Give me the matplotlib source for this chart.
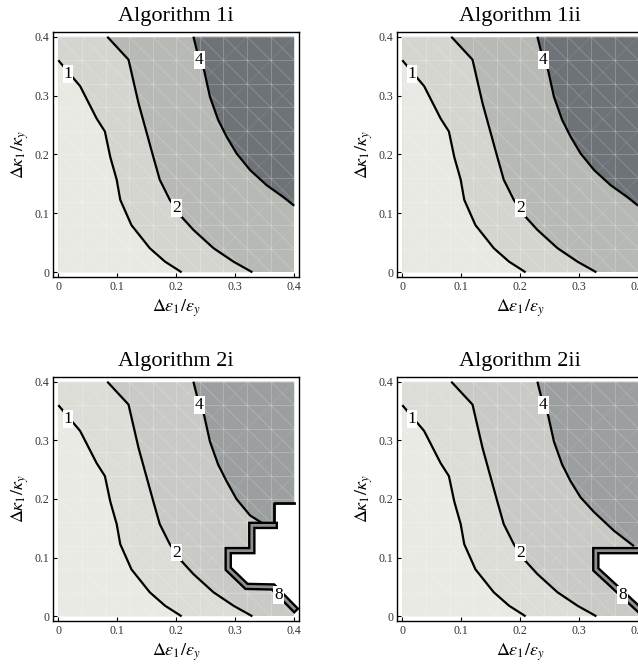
import numpy as np
import matplotlib
matplotlib.use('Agg')
import matplotlib.pyplot as plt

plt.rcParams['font.family'] = ['Liberation Serif', 'DejaVu Serif']
plt.rcParams['mathtext.fontset'] = 'stix'

# contour lines (x = d_eps/eps_y, y = d_kappa/kappa_y)
c1_x = [0.0, 0.037, 0.065, 0.079, 0.088, 0.099, 0.105, 0.124, 0.155, 0.181, 0.209]
c1_y = [0.36, 0.316, 0.261, 0.239, 0.196, 0.157, 0.123, 0.080, 0.041, 0.018, 0.0]

c2_x = [0.083, 0.119, 0.136, 0.150, 0.161, 0.172, 0.189, 0.209, 0.229, 0.263, 0.297, 0.329]
c2_y = [0.400, 0.361, 0.287, 0.236, 0.196, 0.157, 0.123, 0.094, 0.072, 0.041, 0.018, 0.0]

c4_top_x = [0.229, 0.236, 0.247, 0.257, 0.271, 0.2854, 0.302, 0.325, 0.353, 0.381, 0.400]
c4_top_y = [0.400, 0.372, 0.3435, 0.298, 0.2586, 0.230, 0.202, 0.1737, 0.148, 0.128, 0.113]

c4_2i_x = [0.229, 0.236, 0.247, 0.257, 0.271, 0.2854, 0.302, 0.325, 0.347]
c4_2i_y = [0.400, 0.372, 0.3435, 0.298, 0.2586, 0.230, 0.200, 0.172, 0.158]

c4_2ii_x = [0.229, 0.236, 0.247, 0.257, 0.271, 0.2854, 0.302, 0.3247, 0.3587, 0.3926]
c4_2ii_y = [0.400, 0.372, 0.3435, 0.298, 0.2586, 0.230, 0.203, 0.178, 0.146, 0.1195]

# boundary of the undefined (white) region, level 8
s8_2i_x = [0.400, 0.366, 0.366, 0.328, 0.328, 0.288, 0.288, 0.319, 0.364, 0.400]
s8_2i_y = [0.194, 0.194, 0.155, 0.155, 0.112, 0.112, 0.081, 0.051, 0.050, 0.013]

s8_2ii_x = [0.400, 0.328, 0.328, 0.400]
s8_2ii_y = [0.112, 0.112, 0.080, 0.013]

titles = ['Algorithm 1i', 'Algorithm 1ii', 'Algorithm 2i', 'Algorithm 2ii']
ticks = [0, 0.1, 0.2, 0.3, 0.4]
tick_labels = ['0', '0.1', '0.2', '0.3', '0.4']

top_cols = ['#e8e9e2', '#d4d5cf', '#b7b9b5', '#6e7378']
bot_cols = ['#e9eae3', '#dcddd7', '#c9cac5', '#9c9fa0']

W, H = 638, 668
fig = plt.figure(figsize=(W / 100, H / 100), dpi=100)


def rect(left, top, right, bottom):
    return [left / W, (H - bottom) / H, (right - left) / W, (bottom - top) / H]


def mesh(ax):
    g = np.arange(0, 0.4001, 0.04)
    for v in g:
        ax.plot([v, v], [0, 0.4], color='white', lw=0.6, alpha=0.25, zorder=2)
        ax.plot([0, 0.4], [v, v], color='white', lw=0.6, alpha=0.25, zorder=2)
    for c in np.arange(0.04, 0.8, 0.04):
        x0, x1 = max(0, c - 0.4), min(0.4, c)
        ax.plot([x0, x1], [c - x0, c - x1], color='white', lw=0.6, alpha=0.22, zorder=2)
    for c in np.arange(-0.32, 0.4, 0.08):
        x0, x1 = max(0, -c), min(0.4, 0.4 - c)
        ax.plot([x0, x1], [x0 + c, x1 + c], color='white', lw=0.5, alpha=0.12, zorder=2)


def label(ax, x, y, s):
    ax.text(x, y, s, ha='center', va='center', fontsize=12.5, zorder=8,
            bbox=dict(fc='white', ec='none', pad=0.6))


def panel(pos, title, cols, c4x, c4y, s8x=None, s8y=None, single=0):
    ax = fig.add_axes(pos)
    ax.set_xlim(-0.0085, 0.408)
    ax.set_ylim(-0.008, 0.4085)
    ax.fill([0, 0.4, 0.4, 0], [0, 0, 0.4, 0.4], color=cols[2], lw=0, zorder=1)
    ax.fill([0, 0] + c2_x, [0, 0.4] + c2_y, color=cols[1], lw=0, zorder=1)
    ax.fill([0] + c1_x, [0] + c1_y, color=cols[0], lw=0, zorder=1)
    if s8x is None:
        dx, dy = c4x + [0.4], c4y + [0.4]
    elif single:
        dx = c4x + s8x[single::-1] + [0.4]
        dy = c4y + s8y[single::-1] + [0.4]
    else:
        dx = c4x + [0.4, 0.4]
        dy = c4y + [c4y[-1], 0.4]
    ax.fill(dx, dy, color=cols[3], lw=0, zorder=1)
    mesh(ax)
    for xs, ys in [(c1_x, c1_y), (c2_x, c2_y), (c4x, c4y)]:
        ax.plot(xs, ys, color='black', lw=1.6, zorder=5, solid_capstyle='butt')
    if s8x is not None:
        ax.fill(s8x, s8y, color='white', lw=0, zorder=4)
        if single:
            ax.plot(s8x[:single + 1], s8y[:single + 1], color='black', lw=2.0, zorder=5)
        ax.plot(s8x[single:], s8y[single:], color='black', lw=5.4, zorder=5,
                solid_joinstyle='miter')
        ax.plot(s8x[single:], s8y[single:], color='#8e8e8e', lw=2.0, zorder=6,
                solid_joinstyle='miter')
        label(ax, 0.373, 0.036, '8')
    label(ax, 0.016, 0.337, '1')
    label(ax, 0.2006, 0.1086, '2')
    label(ax, 0.239, 0.36, '4')

    ax.set_xticks(ticks)
    ax.set_xticklabels(tick_labels)
    ax.set_yticks(ticks)
    ax.set_yticklabels(tick_labels)
    ax.tick_params(direction='in', length=3, width=0.8, labelsize=8.5, pad=3,
                   labelcolor='#333333')
    for sp in ax.spines.values():
        sp.set_linewidth(1.0)
    ax.set_title(title, fontsize=16, pad=8)
    ax.set_xlabel(r'$\Delta\varepsilon_1/\varepsilon_y$', fontsize=13)
    ax.set_ylabel(r'$\Delta\kappa_1/\kappa_y$', fontsize=13)
    ax.xaxis.set_label_coords(0.5, -0.085)
    ax.yaxis.set_label_coords(-0.09, 0.5)
    return ax


panel(rect(53.3, 31.7, 299, 277), titles[0], top_cols, c4_top_x, c4_top_y)
panel(rect(397.3, 31.7, 643, 277), titles[1], top_cols, c4_top_x, c4_top_y)
panel(rect(53.3, 376.7, 299, 621), titles[2], bot_cols, c4_2i_x, c4_2i_y,
      s8_2i_x, s8_2i_y, single=2)
panel(rect(397.3, 376.7, 643, 621), titles[3], bot_cols, c4_2ii_x, c4_2ii_y,
      s8_2ii_x, s8_2ii_y)

fig.savefig('out.png', dpi=100)
